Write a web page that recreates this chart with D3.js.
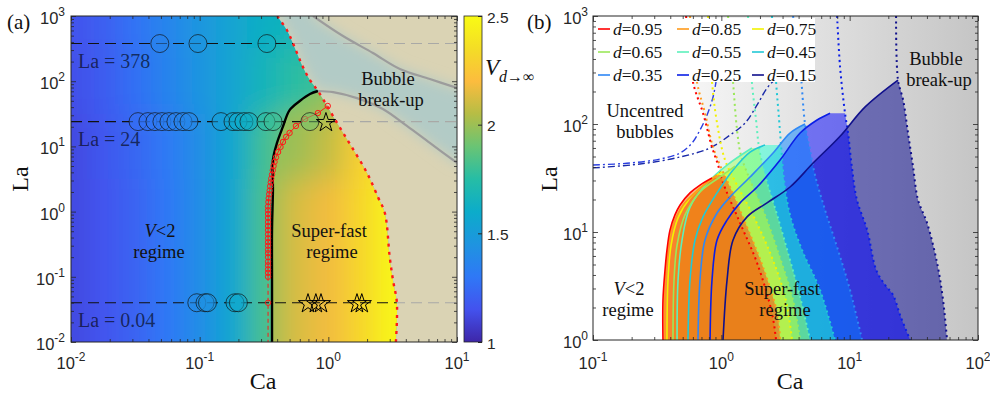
<!DOCTYPE html>
<html>
<head>
<meta charset="utf-8">
<script src="https://cdn.jsdelivr.net/npm/d3@7"></script>
<style>
  body { margin: 0; background: #fff; }
  svg { display: block; }
</style>
</head>
<body>
<svg id="chart" width="990" height="394"></svg>
<script>
const SERIF = '"Liberation Serif", "Times New Roman", serif';
const SANS = '"Liberation Sans", Arial, sans-serif';

// ---------------- panel (a) data ----------------
// background field V(Ca, La), one row per La decade
const caCols = [0.01, 0.0178, 0.0316, 0.0562, 0.1, 0.178, 0.316, 0.562, 1, 1.78, 3.16, 5.62, 10];
const laRows = [1000, 100, 10, 1, 0.1, 0.01];
const vSlow = [
  [1.15, 1.20, 1.28, 1.37, 1.46, 1.55, 1.63, 1.67, 1.70, 1.70, 1.70, 1.70, 1.70],
  [1.14, 1.19, 1.27, 1.36, 1.45, 1.55, 1.67, 1.76, 1.80, 1.80, 1.80, 1.80, 1.80],
  [1.12, 1.17, 1.23, 1.31, 1.42, 1.56, 1.80, 1.92, 1.95, 1.95, 1.95, 1.95, 1.95],
  [1.12, 1.16, 1.22, 1.30, 1.41, 1.56, 1.82, 1.90, 1.90, 1.90, 1.90, 1.90, 1.90],
  [1.12, 1.16, 1.22, 1.30, 1.41, 1.56, 1.82, 1.90, 1.90, 1.90, 1.90, 1.90, 1.90],
  [1.12, 1.16, 1.22, 1.30, 1.41, 1.56, 1.82, 1.90, 1.90, 1.90, 1.90, 1.90, 1.90]
];
const vFast = [
  [1.88, 1.88, 1.88, 1.88, 1.88, 1.88, 1.88, 1.90, 1.95, 2.05, 2.30, 2.45, 2.50],
  [1.90, 1.90, 1.90, 1.90, 1.90, 1.90, 1.90, 1.92, 1.96, 2.10, 2.35, 2.48, 2.50],
  [1.97, 1.97, 1.97, 1.97, 1.97, 1.97, 1.97, 2.00, 2.08, 2.28, 2.45, 2.50, 2.50],
  [1.98, 1.98, 1.98, 1.98, 1.98, 1.98, 1.98, 2.12, 2.18, 2.32, 2.47, 2.50, 2.50],
  [1.98, 1.98, 1.98, 1.98, 1.98, 1.98, 1.98, 2.12, 2.18, 2.32, 2.47, 2.50, 2.50],
  [1.98, 1.98, 1.98, 1.98, 1.98, 1.98, 1.98, 2.12, 2.18, 2.32, 2.47, 2.50, 2.50]
];

// onset of the super-fast regime (d -> infinity), black line
const onsetCa = [0.365, 0.365, 0.365, 0.371, 0.371, 0.399, 0.443, 0.50, 0.60, 0.72, 0.83];
const onsetLa = [0.01, 0.089, 0.52, 2.14, 6.2, 11.3, 19.9, 36, 49.7, 63.7, 70.7];

// break-up boundary, red dotted line
const breakCa = [0.40, 0.476, 0.53, 0.635, 0.72, 0.83, 1.17, 1.52, 2.0, 2.43, 2.75, 3.0, 3.18, 3.41, 3.35];
const breakLa = [1000, 610, 385, 165, 104, 71, 22.9, 9.8, 3.9, 1.67, 0.95, 0.2, 0.089, 0.04, 0.01];

// grey contour lines inside the break-up region
const grayUpCa = [0.76, 1.30, 2.22, 3.60, 6.15, 10];
const grayUpLa = [1000, 493, 271, 154, 108, 78.7];
const grayLoCa = [0.83, 1.09, 1.67, 2.65, 4.08, 6.15, 10];
const grayLoLa = [70.7, 68, 55, 37.5, 20.6, 11.3, 5.6];

// red circles (simulations, finite d)
const trailLa = [0.1, 0.115, 0.13, 0.15, 0.17, 0.2, 0.23, 0.26, 0.3, 0.34, 0.39, 0.45, 0.52, 0.6, 0.69, 0.8, 0.92, 1.05, 1.2,
  1.4, 1.6, 1.85, 2.1, 2.45, 2.8, 3.2, 3.7, 4.3, 5.0, 5.8, 6.8, 8.2, 9.8, 11.7, 14, 16.1, 20.6, 26.3, 32.5, 41.7];
const trailCa = [0.34, 0.34, 0.34, 0.34, 0.34, 0.34, 0.34, 0.34, 0.34, 0.34, 0.34, 0.34, 0.34, 0.34, 0.34, 0.34, 0.34, 0.34, 0.34,
  0.342, 0.344, 0.347, 0.35, 0.353, 0.357, 0.36, 0.365, 0.37, 0.375, 0.382, 0.392, 0.407, 0.425, 0.444, 0.47, 0.5, 0.56, 0.66, 0.83, 0.99];
const lowTrailCa = [0.34, 0.34];
const lowTrailLa = [0.1, 0.01];
const lowMarkCa = [0.34];
const lowMarkLa = [0.04];

// experiment rows
const rowLa = [378, 24, 0.04];
const rowLabels = ['La = 378', 'La = 24', 'La = 0.04'];
const circ378Ca = [0.049, 0.097, 0.333];
const circ378V = [1.36, 1.45, 1.62];
const circ24Ca = [0.0332, 0.0396, 0.0449, 0.0509, 0.0577, 0.0654, 0.0742, 0.0826, 0.1464, 0.1815, 0.1986, 0.2208, 0.2416, 0.3273, 0.3715, 0.719];
const circ24V = [1.27, 1.29, 1.30, 1.32, 1.34, 1.35, 1.37, 1.38, 1.50, 1.56, 1.58, 1.61, 1.63, 1.76, 1.80, 1.92];
const circ004Ca = [0.095, 0.11, 0.115, 0.188, 0.2];
const circ004V = [1.40, 1.43, 1.44, 1.56, 1.58];
const star24Ca = [0.958];
const star004Ca = [0.695, 0.80, 0.877, 1.67, 1.82];

const xTicksA = [-2, -1, 0, 1];
const yTicksA = [-2, -1, 0, 1, 2, 3];
const cbTicks = [1, 1.5, 2, 2.5];

// ---------------- panel (b) data ----------------
const dVals = [0.95, 0.85, 0.75, 0.65, 0.55, 0.45, 0.35, 0.25, 0.15];
const onsetCaB = [
  [0.351, 0.351, 0.364, 0.377, 0.398, 0.435, 0.477, 0.570, 0.682, 0.846],
  [0.364, 0.364, 0.384, 0.420, 0.503, 0.658, 0.926],
  [0.377, 0.384, 0.406, 0.460, 0.570, 0.746, 1.010],
  [0.420, 0.428, 0.452, 0.521, 0.682, 0.977, 1.280],
  [0.452, 0.460, 0.494, 0.570, 0.774, 1.108, 1.730],
  [0.550, 0.570, 0.624, 0.720, 0.926, 1.234, 1.674, 2.190],
  [0.658, 0.682, 0.746, 0.926, 1.169, 1.674, 2.530, 3.430, 4.490],
  [0.817, 0.846, 0.926, 1.108, 1.400, 1.900, 2.870, 4.110, 5.570, 7.030],
  [1.031, 1.108, 1.234, 1.586, 2.270, 3.430, 5.190, 8.420, 13.20, 23.80]
];
const onsetLaB = [
  [1, 2.35, 4.45, 6.8, 10.4, 14.4, 17.8, 23, 27.2, 31.6],
  [1, 2.9, 6.8, 11.6, 17.8, 24.5, 33.7],
  [1, 3.59, 7.58, 13.5, 20.6, 27.8, 36],
  [1, 3.59, 7.58, 14.4, 23.5, 32.3, 40.8],
  [1, 3.59, 8.43, 17, 28.4, 41.7, 60],
  [1, 3.59, 8.43, 13.8, 23, 37.5, 55, 64],
  [1, 3.59, 8.43, 15, 21.1, 32.3, 53.9, 82.5, 100],
  [1, 3.59, 8.43, 12.9, 18.6, 26.1, 46.4, 82.5, 109, 126],
  [1, 3.59, 8.43, 13.8, 18.6, 26.1, 43.5, 77, 144, 255]
];
const breakCaB = [
  [0.531, 0.601, 0.720, 0.846, 0.943, 1.013, 1.40, 1.90, 2.48, 2.67],
  [0.570, 0.646, 0.746, 0.862, 1.013, 1.169, 1.586, 2.11, 2.72, 2.87],
  [0.788, 0.846, 0.926, 1.069, 1.326, 1.73, 2.40, 3.14, 3.56],
  [1.128, 1.234, 1.326, 1.42, 1.674, 2.19, 2.87, 3.62, 4.11],
  [1.614, 1.73, 1.864, 1.97, 2.19, 2.72, 3.43, 4.11, 4.91],
  [2.48, 2.67, 2.82, 2.92, 3.08, 3.43, 4.26, 5.88, 7.69],
  [3.62, 4.11, 4.49, 4.91, 5.37, 6.43, 8.12, 10.07, 12.5],
  [7.98, 8.42, 9.2, 9.72, 10.4, 11.4, 13.7, 16.1, 18.9, 21.8, 24.7, 29.6],
  [23.0, 23.8, 26.1, 28.5, 31.2, 34.1, 40.1, 48.0, 53.4, 57.4]
];
const breakLaB = [
  [1000, 245, 126, 61, 41.7, 30.3, 12.1, 5.16, 1.78, 1],
  [1000, 245, 126, 61, 37.5, 26.1, 11.1, 4.74, 1.78, 1],
  [1000, 245, 102, 46.4, 27.2, 15, 6.4, 2.5, 1],
  [1000, 245, 88, 51.6, 30.3, 14.4, 5.74, 2.35, 1],
  [1000, 245, 109, 60, 33.7, 14.4, 5.5, 2.5, 1],
  [1000, 245, 109, 64, 30.3, 14.4, 6.8, 2.9, 1],
  [1000, 337, 100, 57.4, 33.7, 16, 6.8, 2.9, 1],
  [1000, 337, 126, 82.5, 40, 19.8, 10.4, 4.45, 3.23, 2.61, 1.70, 1],
  [1000, 255, 167, 82.5, 40, 19.8, 12.1, 5.16, 2.35, 1]
];
// uncentred-bubble limits (dash-dot)
const uc1Ca = [0.1, 0.194, 0.333, 0.477, 0.591, 0.682, 0.774, 0.862, 0.909];
const uc1La = [41.7, 43.5, 47.4, 53.9, 66.7, 88, 121, 178, 245];
const uc2Ca = [0.1, 0.232, 0.477, 0.817, 1.169, 1.53, 1.90, 2.27, 2.62, 2.77];
const uc2La = [39.2, 42.6, 49.5, 60, 79, 102, 150, 215, 255, 255];

const xTicksB = [-1, 0, 1, 2];
const yTicksB = [0, 1, 2, 3];

// ---------------- styles ----------------
const parulaStops = ['#3e26a8', '#4352ee', '#2f78f6', '#1e94e0', '#0cacca', '#26bda5', '#6ac474', '#b6bd45', '#fcbc3e', '#f4dd26', '#f9fb14'];
const parula = d3.scaleLinear().domain(d3.range(parulaStops.length).map(i => i / (parulaStops.length - 1)))
  .range(parulaStops).interpolate(d3.interpolateRgb).clamp(true);
const vColor = v => parula((v - 1) / 1.5);

const lineColors = ['#ff0000', '#ff9a1a', '#f2f200', '#9be85a', '#5cf0bc', '#22c8d6', '#2f88f5', '#0a1ee6', '#10108c'];
const fillColors = ['#f96a04', '#ff3c14', '#dcf532', '#bcff3c', '#98ff60', '#20ffd0', '#0080ff', '#0000ff', '#00008c'];

const svg = d3.select('#chart');
const defs = svg.append('defs');

function caAt(caArr, laArr, la) {
  for (let i = 0; i < laArr.length - 1; i++) {
    const a = laArr[i], b = laArr[i + 1];
    if (la <= a && la >= b) {
      const t = (Math.log(la) - Math.log(a)) / (Math.log(b) - Math.log(a));
      return Math.exp(Math.log(caArr[i]) + t * (Math.log(caArr[i + 1]) - Math.log(caArr[i])));
    }
  }
  return caArr[caArr.length - 1];
}
const zip = (a, b) => a.map((v, i) => [v, b[i]]);
function joinPath(gen, a, b) {
  return gen(a) + 'L' + gen(b).slice(1) + 'Z';
}

function drawAxes(g, x, y) {
  const [xl, xr] = x.range(), [yb, yt] = y.range();
  const isMajor = v => Math.abs(Math.log10(v) - Math.round(Math.log10(v))) < 1e-6;
  const xs = x.ticks(), ys = y.ticks();
  const ax = g.append('g');
  [[d3.axisBottom, yb], [d3.axisTop, yt]].forEach(([A, p]) => {
    ax.append('g').attr('transform', `translate(0,${p})`).call(A(x).tickValues(xs.filter(isMajor)).tickSize(-5).tickSizeOuter(0).tickFormat(''));
    ax.append('g').attr('transform', `translate(0,${p})`).call(A(x).tickValues(xs.filter(v => !isMajor(v))).tickSize(-3).tickSizeOuter(0).tickFormat(''));
  });
  [[d3.axisLeft, xl], [d3.axisRight, xr]].forEach(([A, p]) => {
    ax.append('g').attr('transform', `translate(${p},0)`).call(A(y).tickValues(ys.filter(isMajor)).tickSize(-5).tickSizeOuter(0).tickFormat(''));
    ax.append('g').attr('transform', `translate(${p},0)`).call(A(y).tickValues(ys.filter(v => !isMajor(v))).tickSize(-3).tickSizeOuter(0).tickFormat(''));
  });
  ax.selectAll('.domain').remove();
  ax.selectAll('.tick line').attr('stroke', '#262626').attr('stroke-width', 0.8);
  ax.append('rect').attr('x', xl).attr('y', yt).attr('width', xr - xl).attr('height', yb - yt)
    .attr('fill', 'none').attr('stroke', '#262626').attr('stroke-width', 1);
}
function xLabels(g, x, exps, yBase) {
  exps.forEach(e => {
    const t = g.append('text').attr('x', x(Math.pow(10, e))).attr('y', yBase).attr('text-anchor', 'middle')
      .attr('font-family', SANS).attr('font-size', 16.5).attr('fill', '#262626');
    t.append('tspan').text('10');
    t.append('tspan').attr('dy', -8).attr('font-size', 12).text(e);
  });
}
function yLabels(g, y, exps, xEnd) {
  exps.forEach(e => {
    const t = g.append('text').attr('x', xEnd).attr('y', y(Math.pow(10, e)) + 8).attr('text-anchor', 'end')
      .attr('font-family', SANS).attr('font-size', 16.5).attr('fill', '#262626');
    t.append('tspan').text('10');
    t.append('tspan').attr('dy', -8).attr('font-size', 12).text(e);
  });
}
function serifText(g, x, y, str, size, anchor) {
  return g.append('text').attr('x', x).attr('y', y).attr('text-anchor', anchor || 'middle')
    .attr('font-family', SERIF).attr('font-size', size || 20).attr('fill', '#111').text(str);
}
// two-line label in one text element; a line starting with "V<" gets an italic V
function twoLines(g, x, y, lines, gap) {
  const t = g.append('text').attr('text-anchor', 'middle').attr('font-family', SERIF)
    .attr('font-size', 18.5).attr('fill', '#111');
  lines.forEach((s, i) => {
    const ts = t.append('tspan').attr('x', x[i]).attr('y', y + i * gap);
    if (s.startsWith('V<')) {
      ts.append('tspan').attr('font-style', 'italic').text('V');
      ts.append('tspan').text(s.slice(1));
    } else ts.text(s);
  });
  return t;
}

const blur = defs.append('filter').attr('id', 'blurField').attr('filterUnits', 'userSpaceOnUse')
  .attr('x', -200).attr('y', -200).attr('width', 1400).attr('height', 800);
blur.append('feGaussianBlur').attr('stdDeviation', '13 15');
const blurBand = defs.append('filter').attr('id', 'blurBand').attr('filterUnits', 'userSpaceOnUse')
  .attr('x', -200).attr('y', -200).attr('width', 1400).attr('height', 800);
blurBand.append('feGaussianBlur').attr('stdDeviation', '7');

// ================= panel (a) =================
const xA = d3.scaleLog().domain([0.01, 10]).range([71, 457]);
const yA = d3.scaleLog().domain([0.01, 1000]).range([342, 16]);
const gA = svg.append('g');
const lineA = d3.line().x(d => xA(d[0])).y(d => yA(d[1])).curve(d3.curveCatmullRom);
const linA = d3.line().x(d => xA(d[0])).y(d => yA(d[1]));

defs.append('clipPath').attr('id', 'clipA').append('rect')
  .attr('x', 71).attr('y', 16).attr('width', 386).attr('height', 326);

const onsetPts = zip(onsetCa, onsetLa);
const breakPts = zip(breakCa, breakLa);
const laTopA = onsetLa[onsetLa.length - 1];
const fastPath = joinPath(lineA, onsetPts, breakPts.filter(p => p[1] <= laTopA + 0.5));
defs.append('clipPath').attr('id', 'clipFastA').append('path').attr('d', fastPath);
const breakRegion = lineA(breakPts) + `L${xA(10)},${yA(0.01)}L${xA(10)},${yA(1000)}Z`;
defs.append('clipPath').attr('id', 'clipBreakA').append('path').attr('d', breakRegion);

function fieldCells(g, rows) {
  const lc = caCols.map(Math.log10), lr = laRows.map(Math.log10);
  rows.forEach((row, i) => {
    const up = i === 0 ? lr[0] + 1.5 : (lr[i] + lr[i - 1]) / 2;
    const dn = i === rows.length - 1 ? lr[i] - 1.5 : (lr[i] + lr[i + 1]) / 2;
    row.forEach((v, j) => {
      const lo = j === 0 ? lc[0] - 0.8 : (lc[j] + lc[j - 1]) / 2;
      const hi = j === row.length - 1 ? lc[j] + 0.8 : (lc[j] + lc[j + 1]) / 2;
      const x0 = xA(Math.pow(10, lo)), x1 = xA(Math.pow(10, hi));
      const y0 = yA(Math.pow(10, up)), y1 = yA(Math.pow(10, dn));
      g.append('rect').attr('x', x0).attr('y', y0).attr('width', x1 - x0 + 0.6).attr('height', y1 - y0 + 0.6)
        .attr('fill', vColor(v));
    });
  });
}
const fieldA = gA.append('g').attr('clip-path', 'url(#clipA)');
fieldCells(fieldA.append('g').attr('filter', 'url(#blurField)'), vSlow);
fieldCells(fieldA.append('g').attr('clip-path', 'url(#clipFastA)').append('g').attr('filter', 'url(#blurField)'), vFast);

// dashed experiment rows
const rowsG = gA.append('g');
rowLa.forEach(la => {
  rowsG.append('line').attr('x1', 71).attr('x2', 457).attr('y1', yA(la)).attr('y2', yA(la))
    .attr('stroke', '#111').attr('stroke-width', 1.1).attr('stroke-dasharray', '11,6');
});

// break-up region overlay
const brG = gA.append('g').attr('clip-path', 'url(#clipBreakA)');
brG.append('rect').attr('x', 71).attr('y', 16).attr('width', 386).attr('height', 326).attr('fill', '#dad3b4');
const bandPx = [[xA(breakCa[0]), 16 - 40]]
  .concat(breakPts.filter(p => p[1] >= laTopA).map(p => [xA(p[0]), yA(p[1])]))
  .concat(zip(grayLoCa, grayLoLa).map(p => [xA(p[0]), yA(p[1])]))
  .concat([[457 + 40, yA(grayLoLa[grayLoLa.length - 1])], [457 + 40, yA(grayUpLa[grayUpLa.length - 1])]])
  .concat(zip(grayUpCa, grayUpLa).reverse().map(p => [xA(p[0]), yA(p[1])]))
  .concat([[xA(grayUpCa[0]), 16 - 40]]);
brG.append('path').attr('d', d3.line()(bandPx) + 'Z').attr('fill', '#b2cbc6').attr('filter', 'url(#blurBand)');
rowLa.forEach(la => {
  brG.append('line').attr('x1', 71).attr('x2', 457).attr('y1', yA(la)).attr('y2', yA(la))
    .attr('stroke', '#a9a9a6').attr('stroke-width', 1.1).attr('stroke-dasharray', '11,6');
});

const linesA = gA.append('g').attr('clip-path', 'url(#clipA)');
[[grayUpCa, grayUpLa], [grayLoCa, grayLoLa]].forEach(([c, l]) => {
  linesA.append('path').attr('d', lineA(zip(c, l))).attr('fill', 'none')
    .attr('stroke', '#9c9c9c').attr('stroke-width', 2.2);
});
linesA.append('path').attr('d', lineA(breakPts)).attr('fill', 'none')
  .attr('stroke', '#ff1a1a').attr('stroke-width', 2.4).attr('stroke-dasharray', '3,5');
linesA.append('path').attr('d', lineA(onsetPts)).attr('fill', 'none')
  .attr('stroke', '#000').attr('stroke-width', 2.4);
linesA.append('path').attr('d', linA(zip(lowTrailCa, lowTrailLa))).attr('fill', 'none')
  .attr('stroke', '#ff1a1a').attr('stroke-width', 1).attr('stroke-dasharray', '4,3');
linesA.append('path').attr('d', linA(zip(trailCa, trailLa))).attr('fill', 'none')
  .attr('stroke', '#ff1a1a').attr('stroke-width', 1);
linesA.selectAll('circle.trail').data(zip(trailCa, trailLa).concat(zip(lowMarkCa, lowMarkLa))).join('circle')
  .attr('class', 'trail').attr('cx', d => xA(d[0])).attr('cy', d => yA(d[1])).attr('r', 2.7)
  .attr('fill', 'none').attr('stroke', '#ff1a1a').attr('stroke-width', 1);

// markers
const markG = gA.append('g');
[[circ378Ca, circ378V, 378], [circ24Ca, circ24V, 24], [circ004Ca, circ004V, 0.04]].forEach(([cs, vs, la]) => {
  markG.selectAll(null).data(zip(cs, vs)).join('circle')
    .attr('cx', d => xA(d[0])).attr('cy', yA(la)).attr('r', 9)
    .attr('fill', d => vColor(d[1])).attr('fill-opacity', 0.55)
    .attr('stroke', '#111').attr('stroke-opacity', 0.75).attr('stroke-width', 0.9);
});
const star = d3.symbol().type(d3.symbolStar).size(115);
[[star24Ca, 24], [star004Ca, 0.04]].forEach(([cs, la]) => {
  markG.selectAll(null).data(cs).join('path')
    .attr('transform', d => `translate(${xA(d)},${yA(la) + 1})`).attr('d', star)
    .attr('fill', 'none').attr('stroke', '#000').attr('stroke-width', 1);
});

// text panel (a)
const tA = gA.append('g');
rowLabels.forEach((s, i) => {
  serifText(tA, 78, yA(rowLa[i]) + 24, s, 20, 'start').attr('fill', '#000').attr('fill-opacity', 0.62);
});
twoLines(tA, [388, 391], 85, ['Bubble', 'break-up'], 21);
twoLines(tA, [160, 159], 237, ['V<2', 'regime'], 21);
twoLines(tA, [329, 332], 237, ['Super-fast', 'regime'], 21);
serifText(tA, 7, 29, '(a)', 21, 'start');

drawAxes(gA, xA, yA);
xLabels(gA, xA, xTicksA, 369);
yLabels(gA, yA, yTicksA, 65);
serifText(gA, 263, 389, 'Ca', 24);
serifText(gA, 0, 0, 'La', 24).attr('transform', 'translate(28,179) rotate(-90)');

// colorbar
const yC = d3.scaleLinear().domain([1, 2.5]).range([342, 16]);
const cg = defs.append('linearGradient').attr('id', 'cbGrad').attr('x1', 0).attr('y1', 1).attr('x2', 0).attr('y2', 0);
parulaStops.forEach((c, i) => cg.append('stop').attr('offset', i / (parulaStops.length - 1)).attr('stop-color', c));
const cb = svg.append('g');
cb.append('rect').attr('x', 464).attr('y', 16).attr('width', 18).attr('height', 326).attr('fill', 'url(#cbGrad)');
cb.append('g').attr('transform', 'translate(482,0)')
  .call(d3.axisLeft(yC).tickValues(cbTicks).tickSize(4).tickSizeOuter(0).tickFormat(''))
  .call(g => g.select('.domain').remove())
  .call(g => g.selectAll('.tick line').attr('stroke', '#262626'));
cb.append('rect').attr('x', 464).attr('y', 16).attr('width', 18).attr('height', 326)
  .attr('fill', 'none').attr('stroke', '#262626').attr('stroke-width', 0.8);
cbTicks.forEach(v => {
  cb.append('text').attr('x', 487).attr('y', yC(v) + 6.5).attr('font-family', SANS).attr('font-size', 15.5)
    .attr('fill', '#262626').text(v);
});
const vl = cb.append('text').attr('x', 485).attr('y', 75).attr('font-family', SERIF).attr('font-size', 23).attr('fill', '#111');
vl.append('tspan').attr('font-style', 'italic').text('V');
const sub = vl.append('tspan').attr('dy', 7).attr('font-size', 16);
sub.append('tspan').attr('font-style', 'italic').text('d');
sub.append('tspan').text('→∞');

// ================= panel (b) =================
const xB = d3.scaleLog().domain([0.1, 100]).range([593, 978]);
const yB = d3.scaleLog().domain([1, 1000]).range([340, 16]);
const gB = svg.append('g');
const lineB = d3.line().x(d => xB(d[0])).y(d => yB(d[1])).curve(d3.curveCatmullRom);
defs.append('clipPath').attr('id', 'clipB').append('rect')
  .attr('x', 593).attr('y', 16).attr('width', 385).attr('height', 324);
const grayGrad = defs.append('linearGradient').attr('id', 'grayGrad').attr('gradientUnits', 'userSpaceOnUse')
  .attr('x1', 690).attr('x2', 978).attr('y1', 0).attr('y2', 0);
grayGrad.append('stop').attr('offset', 0).attr('stop-color', '#f6f6f6');
grayGrad.append('stop').attr('offset', 1).attr('stop-color', '#c5c5c5');

const plotB = gB.append('g').attr('clip-path', 'url(#clipB)');
const b95 = zip(breakCaB[0], breakLaB[0]);
plotB.append('path').attr('d', lineB(b95) + `L${xB(100)},${yB(1)}L${xB(100)},${yB(1000)}Z`)
  .attr('fill', 'url(#grayGrad)');

// super-fast regions, smallest d at the back
const order = d3.range(dVals.length).reverse();
order.forEach(k => {
  const cPts = zip(onsetCaB[k], onsetLaB[k]);
  const laTop = onsetLaB[k][onsetLaB[k].length - 1];
  const bPts = [[caAt(breakCaB[k], breakLaB[k], laTop), laTop]]
    .concat(zip(breakCaB[k], breakLaB[k]).filter(p => p[1] < laTop));
  plotB.append('path').attr('d', joinPath(lineB, cPts, bPts))
    .attr('fill', fillColors[k]).attr('fill-opacity', 0.5);
});

// uncentred bubble limits
[[uc1Ca, uc1La, '#2a3ee0'], [uc2Ca, uc2La, '#1a2aa8']].forEach(([c, l, col]) => {
  plotB.append('path').attr('d', lineB(zip(c, l))).attr('fill', 'none')
    .attr('stroke', col).attr('stroke-width', 1.4).attr('stroke-dasharray', '7,3,2,3');
});
// break-up limits and onset lines
order.forEach(k => {
  plotB.append('path').attr('d', lineB(zip(breakCaB[k], breakLaB[k]))).attr('fill', 'none')
    .attr('stroke', lineColors[k]).attr('stroke-width', 2).attr('stroke-dasharray', '2,3.5');
});
order.forEach(k => {
  plotB.append('path').attr('d', lineB(zip(onsetCaB[k], onsetLaB[k]))).attr('fill', 'none')
    .attr('stroke', lineColors[k]).attr('stroke-width', 1.6);
});

// legend
const leg = gB.append('g');
leg.append('rect').attr('x', 594).attr('y', 18).attr('width', 221).attr('height', 64).attr('fill', '#fff');
const legX = [598, 677, 752], legY = [29, 52, 75];
dVals.forEach((d, k) => {
  const lx = legX[k % 3], ly = legY[Math.floor(k / 3)];
  leg.append('line').attr('x1', lx).attr('x2', lx + 12).attr('y1', ly).attr('y2', ly)
    .attr('stroke', lineColors[k]).attr('stroke-width', 1.6);
  const t = serifText(leg, lx + 15, ly + 6, '', 17.5, 'start');
  t.append('tspan').attr('font-style', 'italic').text('d');
  t.append('tspan').text('=' + d.toFixed(2));
});

const tB = gB.append('g');
twoLines(tB, [645, 645], 117, ['Uncentred', 'bubbles'], 21);
twoLines(tB, [629, 628], 295, ['V<2', 'regime'], 21);
twoLines(tB, [782, 785], 295, ['Super-fast', 'regime'], 21);
twoLines(tB, [936, 939], 65, ['Bubble', 'break-up'], 21);
serifText(tB, 527, 29, '(b)', 21, 'start');

drawAxes(gB, xB, yB);
xLabels(gB, xB, xTicksB, 369);
yLabels(gB, yB, yTicksB, 588);
serifText(gB, 790, 389, 'Ca', 24);
serifText(gB, 0, 0, 'La', 24).attr('transform', 'translate(557,179) rotate(-90)');
</script>
</body>
</html>
